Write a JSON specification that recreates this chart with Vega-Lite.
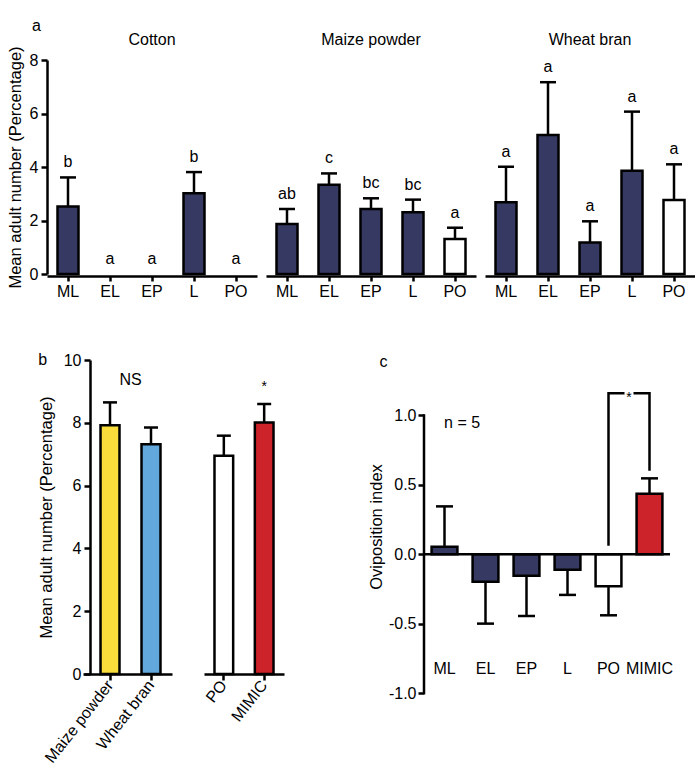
{
  "$schema": "https://vega.github.io/schema/vega-lite/v6.json",
  "background": "white",
  "padding": {"left": 7, "top": 18, "right": 0, "bottom": 0},
  "config": {
    "font": "Liberation Sans",
    "view": {"stroke": null},
    "axis": {"domainColor": "black", "domainWidth": 2.5, "tickColor": "black", "tickWidth": 2.5, "labelColor": "black", "titleColor": "black", "labelFontSize": 16, "titleFontSize": 16.5, "titleFontWeight": "normal", "grid": false, "labelFont": "Liberation Sans", "titleFont": "Liberation Sans"},
    "title": {"fontSize": 16, "fontWeight": "normal", "color": "black", "anchor": "start", "font": "Liberation Sans"},
    "header": {"labelFontSize": 16, "labelColor": "black", "labelFont": "Liberation Sans"},
    "text": {"fontSize": 16, "color": "black", "font": "Liberation Sans"}
  },
  "spacing": 53,
  "resolve": {"scale": {"x": "independent", "y": "independent", "fill": "independent"}},
  "vconcat": [
    {
      "title": {"text": "a", "dx": 25, "offset": -2},
      "data": {"values": [
        {"substrate": "Cotton", "stage": "ML", "mean": 2.52, "err": 3.61, "letter": "b"},
        {"substrate": "Cotton", "stage": "EL", "mean": 0, "err": 0, "letter": "a"},
        {"substrate": "Cotton", "stage": "EP", "mean": 0, "err": 0, "letter": "a"},
        {"substrate": "Cotton", "stage": "L", "mean": 3.02, "err": 3.81, "letter": "b"},
        {"substrate": "Cotton", "stage": "PO", "mean": 0, "err": 0, "letter": "a"},
        {"substrate": "Maize powder", "stage": "ML", "mean": 1.87, "err": 2.43, "letter": "ab"},
        {"substrate": "Maize powder", "stage": "EL", "mean": 3.34, "err": 3.76, "letter": "c"},
        {"substrate": "Maize powder", "stage": "EP", "mean": 2.43, "err": 2.83, "letter": "bc"},
        {"substrate": "Maize powder", "stage": "L", "mean": 2.31, "err": 2.78, "letter": "bc"},
        {"substrate": "Maize powder", "stage": "PO", "mean": 1.31, "err": 1.73, "letter": "a"},
        {"substrate": "Wheat bran", "stage": "ML", "mean": 2.68, "err": 4.01, "letter": "a"},
        {"substrate": "Wheat bran", "stage": "EL", "mean": 5.2, "err": 7.17, "letter": "a"},
        {"substrate": "Wheat bran", "stage": "EP", "mean": 1.18, "err": 1.97, "letter": "a"},
        {"substrate": "Wheat bran", "stage": "L", "mean": 3.86, "err": 6.07, "letter": "a"},
        {"substrate": "Wheat bran", "stage": "PO", "mean": 2.77, "err": 4.1, "letter": "a"}
      ]},
      "facet": {"column": {"field": "substrate", "type": "nominal", "sort": ["Cotton", "Maize powder", "Wheat bran"], "header": {"title": null, "labelPadding": 11}}},
      "spacing": 9,
      "spec": {
        "width": 210,
        "height": 214,
        "encoding": {
          "x": {"field": "stage", "type": "nominal", "sort": ["ML", "EL", "EP", "L", "PO"], "scale": {"paddingInner": 0.5, "paddingOuter": 0.25}, "axis": {"title": null, "labelAngle": 0, "tickSize": 5, "labelPadding": 2}}
        },
        "layer": [
          {
            "transform": [{"filter": "datum.mean > 0"}],
            "mark": {"type": "bar", "stroke": "black", "strokeWidth": 2.5},
            "encoding": {
              "y": {"field": "mean", "type": "quantitative", "scale": {"domain": [0, 8]}, "axis": {"title": "Mean adult number (Percentage)", "values": [0, 2, 4, 6, 8], "tickSize": 6, "labelPadding": 3, "titlePadding": 6}},
              "fill": {"field": "stage", "type": "nominal", "scale": {"domain": ["ML", "EL", "EP", "L", "PO"], "range": ["#363A62", "#363A62", "#363A62", "#363A62", "#FFFFFF"]}, "legend": null}
            }
          },
          {
            "transform": [{"filter": "datum.mean > 0"}],
            "mark": {"type": "rule", "strokeWidth": 2.5, "color": "black"},
            "encoding": {"y": {"field": "mean", "type": "quantitative"}, "y2": {"field": "err"}}
          },
          {
            "transform": [{"filter": "datum.mean > 0"}],
            "mark": {"type": "tick", "thickness": 2.5, "size": 16, "color": "black", "opacity": 1},
            "encoding": {"y": {"field": "err", "type": "quantitative"}}
          },
          {
            "mark": {"type": "text", "baseline": "alphabetic", "dy": -10, "fontSize": 16},
            "encoding": {"y": {"field": "err", "type": "quantitative"}, "text": {"field": "letter"}}
          }
        ]
      }
    },
    {
      "spacing": 84,
      "resolve": {"scale": {"x": "independent", "y": "independent", "fill": "independent"}},
      "hconcat": [
        {
          "spacing": 30,
          "resolve": {"scale": {"x": "independent", "y": "independent", "fill": "independent"}},
          "hconcat": [
            {
              "title": {"text": "b", "dx": 0, "offset": -16},
              "width": 125,
              "height": 314,
              "data": {"values": [
                {"item": "Maize powder", "mean": 7.92, "err": 8.65, "note": "NS", "noteY": 9.19},
                {"item": "Wheat bran", "mean": 7.32, "err": 7.85}
              ]},
              "encoding": {
                "x": {"field": "item", "type": "nominal", "sort": null, "scale": {"paddingInner": 0.537, "paddingOuter": 0.793, "align": 0.823}, "axis": {"title": null, "labelAngle": -52, "tickSize": 6, "labelPadding": 2, "domainDash": [0, 36, 300, 0]}}
              },
              "layer": [
                {
                  "mark": {"type": "bar", "stroke": "black", "strokeWidth": 2.5},
                  "encoding": {
                    "y": {"field": "mean", "type": "quantitative", "scale": {"domain": [0, 10]}, "axis": {"title": "Mean adult number (Percentage)", "offset": -43, "values": [0, 2, 4, 6, 8, 10], "tickSize": 6, "labelPadding": 3, "titlePadding": 9}},
                    "fill": {"field": "item", "type": "nominal", "scale": {"domain": ["Maize powder", "Wheat bran"], "range": ["#F7DC3C", "#62A8DD"]}, "legend": null}
                  }
                },
                {
                  "mark": {"type": "rule", "strokeWidth": 2.5, "color": "black"},
                  "encoding": {"y": {"field": "mean", "type": "quantitative"}, "y2": {"field": "err"}}
                },
                {
                  "mark": {"type": "tick", "thickness": 2.5, "size": 14, "color": "black", "opacity": 1},
                  "encoding": {"y": {"field": "err", "type": "quantitative"}}
                },
                {
                  "transform": [{"filter": "datum.note == 'NS'"}],
                  "mark": {"type": "text", "baseline": "alphabetic", "dx": 20.5, "fontSize": 16},
                  "encoding": {"y": {"field": "noteY", "type": "quantitative"}, "text": {"field": "note"}}
                }
              ]
            },
            {
              "width": 80,
              "height": 314,
              "data": {"values": [
                {"item": "PO", "mean": 6.95, "err": 7.59},
                {"item": "MIMIC", "mean": 8.01, "err": 8.6, "note": "*", "noteY": 9.02}
              ]},
              "encoding": {
                "x": {"field": "item", "type": "nominal", "sort": null, "scale": {"paddingInner": 0.537, "paddingOuter": 0.26}, "axis": {"title": null, "labelAngle": -52, "tickSize": 6, "labelPadding": 2}}
              },
              "layer": [
                {
                  "mark": {"type": "bar", "stroke": "black", "strokeWidth": 2.5},
                  "encoding": {
                    "y": {"field": "mean", "type": "quantitative", "scale": {"domain": [0, 10]}, "axis": null},
                    "fill": {"field": "item", "type": "nominal", "scale": {"domain": ["PO", "MIMIC"], "range": ["#FFFFFF", "#CC2229"]}, "legend": null}
                  }
                },
                {
                  "mark": {"type": "rule", "strokeWidth": 2.5, "color": "black"},
                  "encoding": {"y": {"field": "mean", "type": "quantitative"}, "y2": {"field": "err"}}
                },
                {
                  "mark": {"type": "tick", "thickness": 2.5, "size": 14, "color": "black", "opacity": 1},
                  "encoding": {"y": {"field": "err", "type": "quantitative"}}
                },
                {
                  "transform": [{"filter": "datum.note == '*'"}],
                  "mark": {"type": "text", "baseline": "alphabetic", "fontSize": 14},
                  "encoding": {"y": {"field": "noteY", "type": "quantitative"}, "text": {"field": "note"}}
                }
              ]
            }
          ]
        },
        {
          "title": {"text": "c", "dx": 11, "offset": -10},
          "width": 246,
          "height": 333,
          "resolve": {"scale": {"x": "independent"}},
          "layer": [
            {
              "data": {"values": [
                {"stage": "ML", "mean": 0.054, "err": 0.345},
                {"stage": "EL", "mean": -0.198, "err": -0.5},
                {"stage": "EP", "mean": -0.155, "err": -0.445},
                {"stage": "L", "mean": -0.112, "err": -0.293},
                {"stage": "PO", "mean": -0.231, "err": -0.44},
                {"stage": "MIMIC", "mean": 0.436, "err": 0.547}
              ]},
              "encoding": {
                "x": {"field": "stage", "type": "nominal", "sort": ["ML", "EL", "EP", "L", "PO", "MIMIC"], "scale": {"paddingInner": 0.37, "paddingOuter": 0.185}, "axis": {"title": null, "labelAngle": 0, "domain": false, "ticks": false, "tickSize": 0, "labelPadding": 0, "offset": -25, "labelBaseline": "middle"}}
              },
              "layer": [
                {
                  "mark": {"type": "bar", "stroke": "black", "strokeWidth": 2.5},
                  "encoding": {
                    "y": {"field": "mean", "type": "quantitative", "scale": {"domain": [-1, 1.379]}, "axis": {"title": "Oviposition index", "domain": false, "values": [-1, -0.5, 0, 0.5, 1], "labelExpr": "datum.value < 0 ? '-' + format(-datum.value, '.1f') : format(datum.value, '.1f')", "tickSize": 6, "labelPadding": 2, "titlePadding": 4}},
                    "fill": {"field": "stage", "type": "nominal", "scale": {"domain": ["ML", "EL", "EP", "L", "PO", "MIMIC"], "range": ["#363A62", "#363A62", "#363A62", "#363A62", "#FFFFFF", "#CC2229"]}, "legend": null}
                  }
                },
                {
                  "mark": {"type": "rule", "strokeWidth": 2.5, "color": "black"},
                  "encoding": {"y": {"field": "mean", "type": "quantitative"}, "y2": {"field": "err"}}
                },
                {
                  "mark": {"type": "tick", "thickness": 2.5, "size": 17, "color": "black", "opacity": 1},
                  "encoding": {"y": {"field": "err", "type": "quantitative"}}
                }
              ]
            },
            {
              "data": {"values": [{"level": 0}]},
              "mark": {"type": "rule", "strokeWidth": 2.5, "color": "black"},
              "encoding": {"y": {"field": "level", "type": "quantitative"}}
            },
            {
              "data": {"values": [{"ax": 0, "lo": -1, "hi": 1}]},
              "mark": {"type": "rule", "strokeWidth": 2.5, "color": "black", "strokeCap": "square"},
              "encoding": {
                "x": {"field": "ax", "type": "quantitative", "scale": {"domain": [0, 6]}, "axis": null},
                "y": {"field": "lo", "type": "quantitative"},
                "y2": {"field": "hi"}
              }
            },
            {
              "data": {"values": [
                {"seg": 1, "ord": 1, "bx": 4.5, "by": 0.07},
                {"seg": 1, "ord": 2, "bx": 4.5, "by": 1.16},
                {"seg": 1, "ord": 3, "bx": 4.86, "by": 1.16},
                {"seg": 2, "ord": 1, "bx": 5.14, "by": 1.16},
                {"seg": 2, "ord": 2, "bx": 5.5, "by": 1.16},
                {"seg": 2, "ord": 3, "bx": 5.5, "by": 0.61}
              ]},
              "mark": {"type": "line", "color": "black", "strokeWidth": 2.5, "strokeCap": "square"},
              "encoding": {
                "x": {"field": "bx", "type": "quantitative", "scale": {"domain": [0, 6]}, "axis": null},
                "y": {"field": "by", "type": "quantitative"},
                "detail": {"field": "seg", "type": "nominal"},
                "order": {"field": "ord", "type": "quantitative"}
              }
            },
            {
              "data": {"values": [{"label": "*", "ax": 5.0, "ay": 1.1}]},
              "mark": {"type": "text", "baseline": "alphabetic", "fontSize": 14},
              "encoding": {
                "x": {"field": "ax", "type": "quantitative", "scale": {"domain": [0, 6]}, "axis": null},
                "y": {"field": "ay", "type": "quantitative"},
                "text": {"field": "label"}
              }
            },
            {
              "data": {"values": [{"label": "n = 5", "ax": 0.93, "ay": 0.947}]},
              "mark": {"type": "text", "baseline": "middle", "fontSize": 16},
              "encoding": {
                "x": {"field": "ax", "type": "quantitative", "scale": {"domain": [0, 6]}, "axis": null},
                "y": {"field": "ay", "type": "quantitative"},
                "text": {"field": "label"}
              }
            }
          ]
        }
      ]
    }
  ]
}
